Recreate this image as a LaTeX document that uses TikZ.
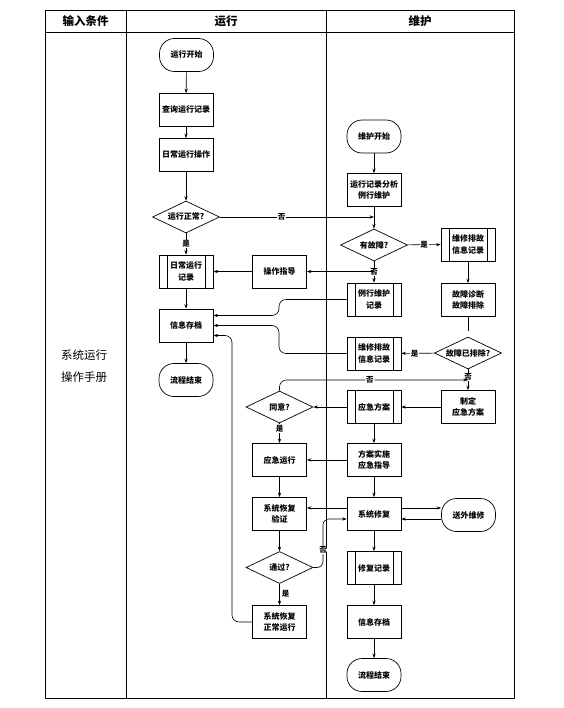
\documentclass[tikz,border=0pt]{standalone}
\usepackage{fontspec}
\newfontfamily\cjk{Noto Sans CJK SC}
\usetikzlibrary{shapes.geometric,arrows.meta,calc}
\begin{document}
\begin{tikzpicture}[x=1bp,y=-1bp,
  every node/.style={font=\cjk\bfseries\fontsize{8bp}{11.5bp}\selectfont, align=center},
  frame/.style={line width=0.9bp},
  box/.style={draw, line width=0.7bp, rectangle, minimum width=54bp, minimum height=33bp, inner sep=1bp},
  term/.style={box, rounded corners=15bp},
  pbox/.style={box, path picture={\draw[line width=0.6bp]
      ([xshift=8bp]path picture bounding box.north west) -- ([xshift=8bp]path picture bounding box.south west)
      ([xshift=-8bp]path picture bounding box.north east) -- ([xshift=-8bp]path picture bounding box.south east);}},
  dec/.style={draw, line width=0.7bp, diamond, aspect=2, minimum width=67bp, minimum height=32bp, inner sep=0bp},
  arr/.style={line width=0.6bp, -{Stealth[length=4.5bp,width=3.2bp]}},
  ln/.style={line width=0.6bp},
  lbl/.style={fill=white, inner sep=0.8bp, font=\cjk\bfseries\fontsize{7.5bp}{8bp}\selectfont},
  head/.style={font=\cjk\bfseries\fontsize{11.5bp}{13bp}\selectfont},
  lane/.style={font=\cjk\fontsize{11.5bp}{22bp}\selectfont}
]
\useasboundingbox (0,0) rectangle (564,708);
% frame
\draw[frame] (45,10) rectangle (514,698);
\draw[frame] (45,32) -- (514,32);
\draw[frame] (126,10) -- (126,698);
\draw[frame] (326,10) -- (326,698);
\node[head] (h1) at (85.5,21) {输入条件};
\node[head] (h2) at (226,21) {运行};
\node[head] (h3) at (420,21) {维护};
\node[lane] (manual) at (84,366) {系统运行\\操作手册};

% nodes: 运行 lane
\node[term] (s1) at (186.5,55) {运行开始};
\node[box] (q1) at (186,110) {查询运行记录};
\node[box] (op) at (186,155) {日常运行操作};
\node[dec] (d1) at (186,217) {运行正常?};
\node[pbox] (rec1) at (186,271.5) {日常运行\\记录};
\node[box] (arch1) at (186,325.5) {信息存档};
\node[term] (end1) at (186,380) {流程结束};
\node[box] (guide) at (279.5,271.5) {操作指导};
\node[dec] (agree) at (279.5,407) {同意?};
\node[box] (emerg) at (279.5,460) {应急运行};
\node[box] (verify) at (279.5,514) {系统恢复\\验证};
\node[dec] (pass) at (279.5,567.5) {通过?};
\node[box] (restore) at (279.5,622) {系统恢复\\正常运行};

% nodes: 维护 lane
\node[term] (ms) at (374,136.5) {维护开始};
\node[box] (an) at (374,190) {运行记录分析\\例行维护};
\node[dec] (fault) at (374,245) {有故障?};
\node[pbox] (rec2) at (468,244.5) {维修排故\\信息记录};
\node[box] (diag) at (468,300) {故障诊断\\故障排除};
\node[pbox] (mrec) at (374,299.5) {例行维护\\记录};
\node[dec] (fixed) at (468,353) {故障已排除?};
\node[pbox] (rec3) at (374,353.5) {维修排故\\信息记录};
\node[box] (plan) at (468,407) {制定\\应急方案};
\node[pbox] (eplan) at (374,407) {应急方案};
\node[box] (impl) at (374,460) {方案实施\\应急指导};
\node[box] (repair) at (374,514) {系统修复};
\node[term] (outside) at (468.5,515) {送外维修};
\node[pbox] (mrepair) at (374,568) {修复记录};
\node[box] (arch2) at (374,622) {信息存档};
\node[term] (end2) at (374,675) {流程结束};

% helper coordinates
\coordinate (bendA) at (279,0);
\coordinate (bendB) at (232,0);
\coordinate (bendC) at (323,0);
\coordinate (topY) at (0,380);
\coordinate (a1top) at ([yshift=10bp]arch1.east);
\coordinate (a1bot) at ([yshift=-10bp]arch1.east);
\coordinate (rin) at ([yshift=-5bp]repair.west);

% 运行 lane flow
\draw[arr] (s1) -- (q1);
\draw[arr] (q1) -- (op);
\draw[arr] (op) -- (d1);
\draw[arr] (d1) -- node[lbl]{是} (rec1);
\draw[arr] (rec1) -- (arch1);
\draw[arr] (arch1) -- (end1);
\draw[arr] (d1.east) -- node[lbl,pos=0.4]{否} (d1.east -| an.south);

% 维护 lane flow
\draw[arr] (ms) -- (an);
\draw[arr] (an) -- (fault);
\draw[arr] (fault) -- node[lbl]{是} (rec2);
\draw[arr] (rec2) -- (diag);
\draw[ln, shorten >=6bp] (diag) -- (fixed);
\draw[arr] (fault) -- node[lbl]{否} (mrec);
\draw[arr] (fault.south |- guide.east) -- (guide.east);
\draw[arr] (guide) -- (rec1);
\draw[arr] (fixed) -- node[lbl,pos=0.6]{是} (rec3);
\draw[arr] (fixed) -- node[lbl,pos=0.36]{否} (plan);
\draw[arr] (plan) -- (eplan);
\draw[arr] (eplan) -- (agree);
\draw[arr, rounded corners=7bp] (agree.north) -- (agree.north |- topY) -- node[lbl,pos=0.48]{否} (plan.north |- topY);
\draw[arr] (agree) -- node[lbl,pos=0.27]{是} (emerg);
\draw[arr] (eplan) -- (impl);
\draw[arr] (impl) -- (emerg);
\draw[arr] (impl) -- (repair);
\draw[arr] (emerg) -- (verify);
\draw[arr] (verify) -- (pass);
\draw[arr] (pass) -- node[pos=0.45, anchor=west, inner sep=2bp, font=\cjk\bfseries\fontsize{7.5bp}{8bp}\selectfont]{是} (restore);
\draw[arr] ([yshift=6bp]repair.west) -- ([yshift=6bp]repair.west -| verify.east);
\draw[arr] ([yshift=6bp]repair.east) -- ([yshift=6bp]repair.east -| outside.west);
\draw[arr] ([yshift=-4bp]outside.west) -- ([yshift=-4bp]outside.west -| repair.east);
\draw[arr, rounded corners=6bp] (pass.east) -- (pass.east -| bendC) -- node[lbl,pos=0.36]{否} (bendC |- rin) -- (rin);
\draw[arr] (repair) -- (mrepair);
\draw[arr] (mrepair) -- (arch2);
\draw[arr] (arch2) -- (end2);

% records to archive
\draw[arr, rounded corners=7bp] (mrec.west) -- (mrec.west -| bendA) -- (bendA |- a1top) -- (a1top);
\draw[arr, rounded corners=7bp] (rec3.west) -- (rec3.west -| bendA) -- (bendA |- arch1.east) -- (arch1.east);
\draw[arr, rounded corners=7bp] (restore.west) -- (restore.west -| bendB) -- (bendB |- a1bot) -- (a1bot);
\end{tikzpicture}
\end{document}
